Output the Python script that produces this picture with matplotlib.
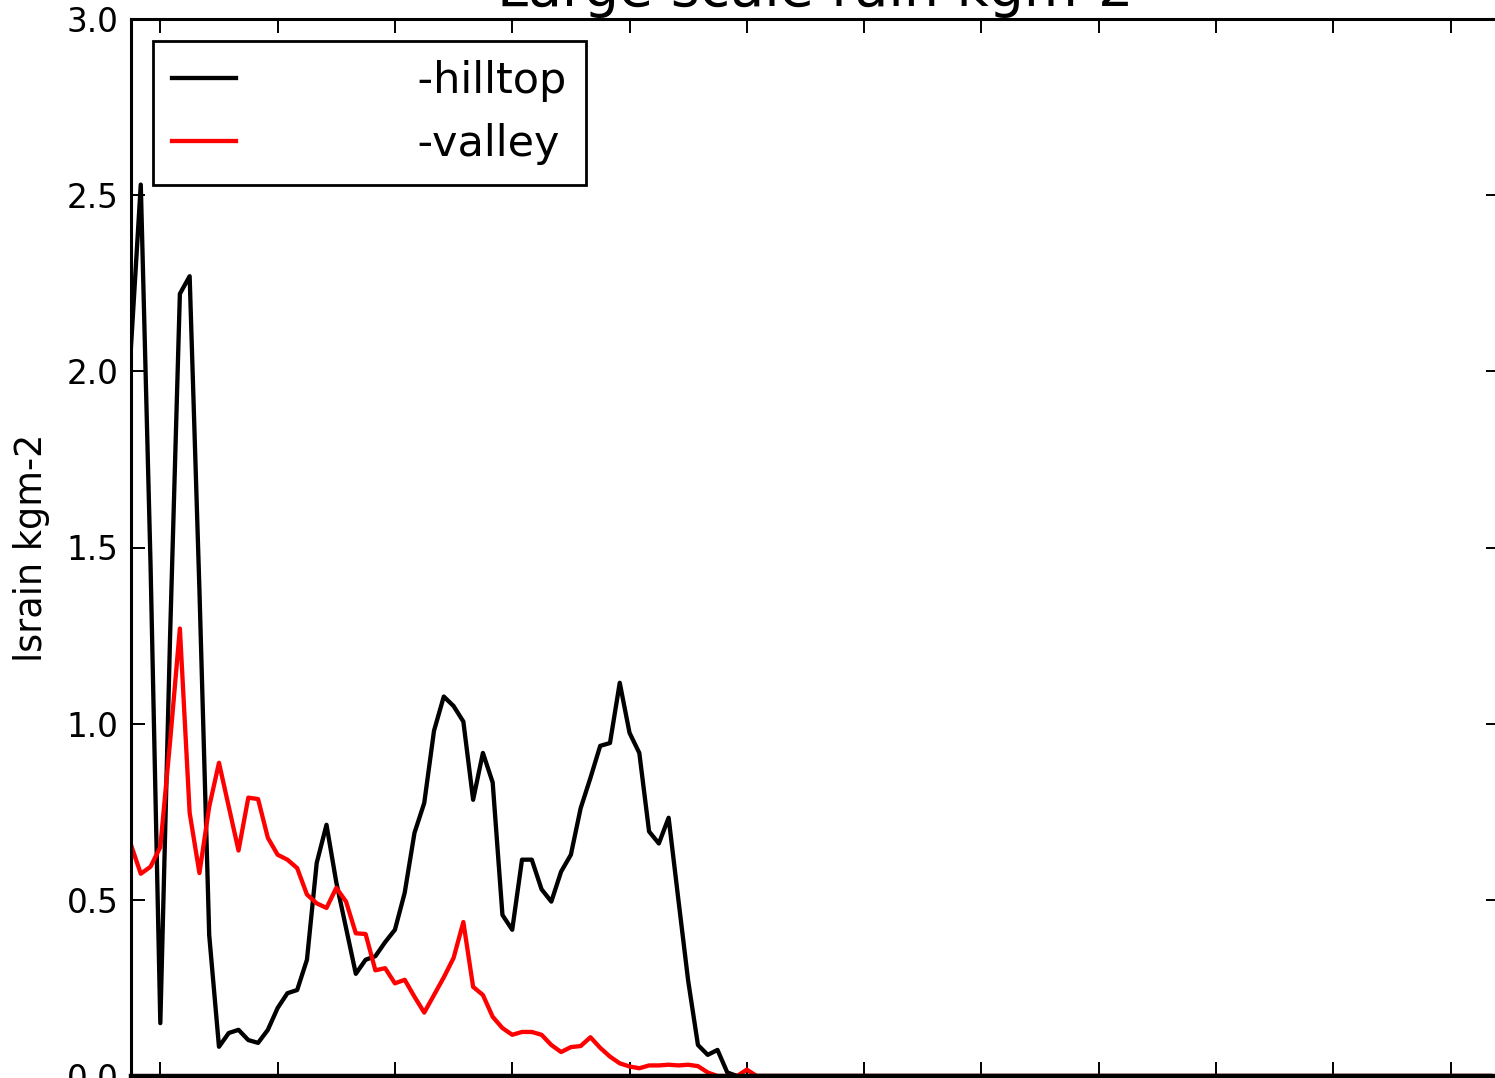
import matplotlib
matplotlib.use('Agg')
import matplotlib.pyplot as plt
import numpy as np

# time step index and the two rain series (zeros after the rain stops)
nsteps = 140
hilltop_vals = [2.07, 2.53, 1.45, 0.15, 1.25, 2.22, 2.27, 1.38, 0.40, 0.083,
                0.122, 0.131, 0.102, 0.094, 0.131, 0.193, 0.235, 0.244, 0.33, 0.605,
                0.713, 0.55, 0.42, 0.29, 0.33, 0.34, 0.38, 0.415, 0.52, 0.69,
                0.775, 0.98, 1.077, 1.05, 1.006, 0.784, 0.917, 0.833, 0.457, 0.415,
                0.614, 0.614, 0.53, 0.495, 0.58, 0.628, 0.76, 0.846, 0.937, 0.945,
                1.116, 0.974, 0.917, 0.694, 0.66, 0.733, 0.50, 0.27, 0.088, 0.06,
                0.074, 0.01]
valley_vals = [0.656, 0.574, 0.594, 0.65, 0.95, 1.27, 0.747, 0.576, 0.764, 0.889,
               0.764, 0.64, 0.79, 0.786, 0.676, 0.628, 0.614, 0.59, 0.515, 0.49,
               0.477, 0.534, 0.495, 0.405, 0.403, 0.30, 0.306, 0.263, 0.273, 0.225,
               0.18, 0.23, 0.28, 0.335, 0.437, 0.253, 0.23, 0.168, 0.136, 0.117,
               0.125, 0.125, 0.117, 0.088, 0.068, 0.082, 0.085, 0.11, 0.08, 0.055,
               0.036, 0.027, 0.022, 0.03, 0.03, 0.032, 0.03, 0.032, 0.028, 0.01,
               0.0, 0.0, 0.0, 0.018]
xtick_pos = list(range(3, 140, 12))
ytick_pos = [0.0, 0.5, 1.0, 1.5, 2.0, 2.5, 3.0]

steps = np.arange(nsteps)
hilltop = np.zeros(nsteps)
hilltop[:len(hilltop_vals)] = hilltop_vals
valley = np.zeros(nsteps)
valley[:len(valley_vals)] = valley_vals

fig = plt.figure(figsize=(14.95, 10.78), dpi=100)
ax = fig.add_axes([131/1495., 2/1078., 1368.5/1495., 1057/1078.])

ax.plot(steps, hilltop, color='k', lw=3.1, label='            -hilltop')
ax.plot(steps, valley, color='r', lw=3.1, label='            -valley')

ax.set_xlim(0, 140)
ax.set_ylim(0, 3.0)
ax.set_xticks(xtick_pos)
ax.set_yticks(ytick_pos)
ax.set_yticklabels(['%.1f' % v for v in ytick_pos])
ax.tick_params(direction='in', top=True, right=True, length=10, width=1.4,
               labelsize=23.5, pad=9)
for sp in ax.spines.values():
    sp.set_linewidth(2.2)
    sp.set_zorder(3)
ax.spines['bottom'].set_linewidth(3.2)

ax.set_title('Large scale rain kgm-2', fontsize=40, pad=9.5)
ax.set_ylabel('lsrain kgm-2', fontsize=26.4, labelpad=12)

leg = ax.legend(loc='upper left', fontsize=31, fancybox=False, handlelength=1.5,
                borderpad=0.45, labelspacing=0.5, handletextpad=0.41)
leg.get_frame().set_edgecolor('k')
leg.get_frame().set_linewidth(2)
leg.get_frame().set_alpha(1)

fig.savefig('out.png', dpi=100)
